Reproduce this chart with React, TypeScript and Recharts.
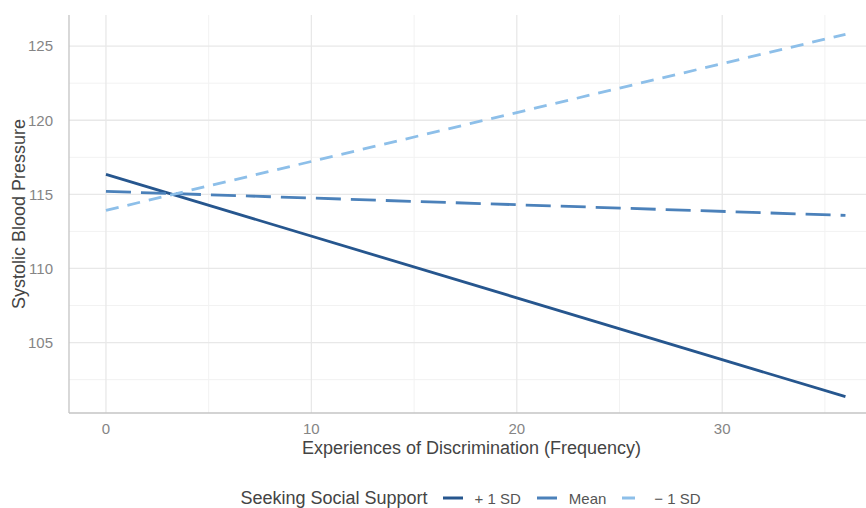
import React from 'react';
import {
  LineChart, Line, XAxis, YAxis, CartesianGrid, Legend, Label,
} from 'recharts';

// Simple slopes: systolic blood pressure by discrimination frequency,
// at three levels of seeking social support.
const xValues = [0, 36];
const plusOneSd = [116.35, 101.35];
const meanLevel = [115.2, 113.58];
const minusOneSd = [113.92, 125.8];

const xTicks = [0, 10, 20, 30];
const yTicks = [105, 110, 115, 120, 125];
const xMinor = [5, 15, 25, 35];
const yMinor = [102.5, 107.5, 112.5, 117.5, 122.5];

const FONT = '"Liberation Sans", Arial, Helvetica, sans-serif';
const TICK = { fontSize: 15, fill: '#858585', fontFamily: FONT } as const;

const series = [
  { key: 'plus', label: '+ 1 SD', values: plusOneSd, color: '#26568e', dash: undefined as string | undefined },
  { key: 'mean', label: 'Mean', values: meanLevel, color: '#4b81ba', dash: '25 10' },
  { key: 'minus', label: '\u2212 1 SD', values: minusOneSd, color: '#8dbfe9', dash: '13 9' },
];

const toPoints = (vals: number[]) => xValues.map((x, i) => ({ x, y: vals[i] }));

const LegendBox = () => (
  <div
    style={{
      display: 'flex', alignItems: 'center', justifyContent: 'center',
      fontFamily: FONT, color: '#444', height: 30,
    }}
  >
    <span style={{ fontSize: 18, marginRight: 15 }}>Seeking Social Support</span>
    {series.map((s, i) => (
      <span key={s.key} style={{ display: 'inline-flex', alignItems: 'center', marginRight: i < series.length - 1 ? 16 : 0 }}>
        <svg width={20} height={10} style={{ marginRight: 12 }}>
          <line x1={0} y1={5} x2={20} y2={5} stroke={s.color} strokeWidth={3} strokeDasharray={s.dash} />
        </svg>
        <span style={{ fontSize: 15, color: '#555' }}>{s.label}</span>
      </span>
    ))}
  </div>
);

const YTitle = ({ viewBox }: any) => {
  const cx = 19;
  const cy = viewBox.y + viewBox.height / 2;
  return (
    <text
      x={cx}
      y={cy}
      transform={`rotate(-90, ${cx}, ${cy})`}
      textAnchor="middle"
      dominantBaseline="central"
      style={{ fontSize: 18, fill: '#444', fontFamily: FONT }}
    >
      Systolic Blood Pressure
    </text>
  );
};

const XTitle = ({ viewBox }: any) => (
  <text
    x={viewBox.x + viewBox.width / 2 + 4}
    y={448}
    textAnchor="middle"
    dominantBaseline="central"
    style={{ fontSize: 18, fill: '#444', fontFamily: FONT }}
  >
    Experiences of Discrimination (Frequency)
  </text>
);

export default function App() {
  return (
    <div style={{ position: 'absolute', left: 0, top: 0, width: 866, height: 508, background: '#fff' }}>
      <LineChart width={866} height={508} margin={{ top: 15, right: 0, bottom: 0, left: 0 }}>
        <CartesianGrid
          horizontalValues={yMinor}
          verticalValues={xMinor}
          stroke="#f2f2f2"
          strokeWidth={1}
        />
        <CartesianGrid
          horizontalValues={yTicks}
          verticalValues={xTicks}
          stroke="#e8e8e8"
          strokeWidth={1.3}
        />
        <XAxis
          type="number"
          dataKey="x"
          domain={[-1.8, 37]}
          ticks={xTicks}
          allowDataOverflow
          height={65}
          tickLine={false}
          axisLine={{ stroke: '#c4c4c4', strokeWidth: 1.3 }}
          tick={TICK}
          tickMargin={4}
        >
          <Label content={<XTitle />} />
        </XAxis>
        <YAxis
          type="number"
          dataKey="y"
          domain={[100.25, 127.1]}
          ticks={yTicks}
          allowDataOverflow
          width={69}
          tickLine={false}
          axisLine={{ stroke: '#c4c4c4', strokeWidth: 1.3 }}
          tick={TICK}
          tickMargin={10}
        >
          <Label content={<YTitle />} />
        </YAxis>
        {series.map((s) => (
          <Line
            key={s.key}
            data={toPoints(s.values)}
            dataKey="y"
            type="linear"
            stroke={s.color}
            strokeWidth={2.8}
            strokeDasharray={s.dash}
            dot={false}
            activeDot={false}
            isAnimationActive={false}
          />
        ))}
        <Legend
          content={<LegendBox />}
          wrapperStyle={{ left: 72, width: 797, bottom: -5, height: 30 }}
        />
      </LineChart>
    </div>
  );
}
